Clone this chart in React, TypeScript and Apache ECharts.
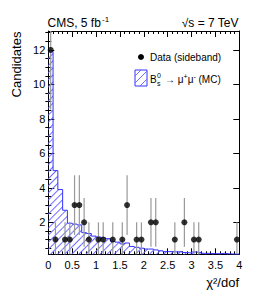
import React, { useEffect, useRef } from 'react';
import * as echarts from 'echarts';

// ---- data ----
const mcBinLow = [
  0.0, 0.1, 0.2, 0.3, 0.4, 0.5, 0.6, 0.7, 0.8, 0.9,
  1.0, 1.1, 1.2, 1.3, 1.4, 1.5, 1.6, 1.7, 1.8, 1.9,
  2.0, 2.1, 2.2, 2.3, 2.4, 2.5, 2.6, 2.7, 2.8, 2.9,
  3.0, 3.1, 3.2, 3.3, 3.4, 3.5, 3.6, 3.7, 3.8, 3.9,
];
const mcBinWidth = 0.1;
const mcValues = [
  11.9, 5.0, 3.9, 2.7, 1.95, 1.9, 1.85, 1.4, 1.35, 1.2,
  1.15, 1.1, 1.05, 0.9, 0.85, 0.75, 0.8, 0.6, 0.55, 0.5,
  0.45, 0.45, 0.4, 0.35, 0.3, 0.3, 0.28, 0.3, 0.25, 0.22,
  0.28, 0.25, 0.2, 0.2, 0.18, 0.18, 0.2, 0.17, 0.16, 0.16,
];

const dataX = [0.05, 0.15, 0.35, 0.45, 0.55, 0.65, 0.75, 0.85, 1.05, 1.15, 1.35, 1.55, 1.65, 1.85, 1.95, 2.15, 2.25, 2.65, 2.85, 3.05, 3.15, 3.95];
const dataY = [12, 1, 1, 1, 3, 3, 2, 1, 1, 1, 1, 1, 3, 1, 1, 2, 2, 1, 2, 1, 1, 1];
const dataLow = [8.54, 0, 0, 0, 1.27, 1.27, 0.59, 0, 0, 0, 0, 0, 1.27, 0, 0, 0.59, 0.59, 0, 0.59, 0, 0, 0];
const dataHigh = [15.46, 2, 2, 2, 4.73, 4.73, 3.41, 2, 2, 2, 2, 2, 4.73, 2, 2, 3.41, 3.41, 2, 3.41, 2, 2, 2];

const xMin = 0;
const xMax = 4;
const xInterval = 0.5;
const yMin = 0.145;
const yMax = 13.1;
const yMajorTicks = [2, 4, 6, 8, 10, 12];
const yMinorTicks = [0.5, 1, 1.5, 2.5, 3, 3.5, 4.5, 5, 5.5, 6.5, 7, 7.5, 8.5, 9, 9.5, 10.5, 11, 11.5, 12.5, 13];

const FONT = "'Liberation Sans', Arial, Helvetica, sans-serif";

export default function App() {
  const ref = useRef<HTMLDivElement>(null);
  useEffect(() => {
    if (!ref.current) return;
    const chart = echarts.init(ref.current, undefined, { renderer: 'svg' });

    const barData = mcBinLow.map((x, i) => [x + mcBinWidth / 2, mcValues[i]]);
    const outline = mcBinLow.map((x, i) => [x, mcValues[i]]);
    outline.push([mcBinLow[mcBinLow.length - 1] + mcBinWidth, mcValues[mcValues.length - 1]]);
    const errData = dataX.map((x, i) => [x, dataLow[i], dataHigh[i]]);
    const pts = dataX.map((x, i) => [x, dataY[i]]);

    const xBase = {
      type: 'value' as const,
      min: xMin,
      max: xMax,
      interval: xInterval,
      axisLine: { show: true, onZero: false, lineStyle: { color: '#000', width: 1 } },
      axisTick: { show: true, inside: true, length: 6, lineStyle: { color: '#000' } },
      minorTick: { show: true, splitNumber: 5, length: 3, lineStyle: { color: '#000' } },
      splitLine: { show: false },
      minorSplitLine: { show: false },
    };
    const yBase = {
      type: 'value' as const,
      min: yMin,
      max: yMax,
      splitLine: { show: false },
    };

    chart.setOption({
      animation: false,
      grid: { left: 48.3, right: 26.7, top: 31, bottom: 45.7, containLabel: false },
      xAxis: [
        {
          ...xBase,
          position: 'bottom',
          axisLabel: { color: '#000', fontSize: 11, fontFamily: FONT, margin: 5, formatter: (v: number) => String(v) },
        },
        { ...xBase, position: 'top', axisLabel: { show: false } },
      ],
      yAxis: [
        {
          ...yBase,
          position: 'left',
          axisLine: { show: true, onZero: false, lineStyle: { color: '#000', width: 1 } },
          axisTick: { show: true, inside: true, length: 6, lineStyle: { color: '#000' }, customValues: yMajorTicks },
          axisLabel: { color: '#000', fontSize: 11, fontFamily: FONT, margin: 3, customValues: yMajorTicks },
        },
        {
          ...yBase,
          position: 'left',
          axisLine: { show: false },
          axisTick: { show: true, inside: true, length: 3, lineStyle: { color: '#000' }, customValues: yMinorTicks },
          axisLabel: { show: false },
        },
        {
          ...yBase,
          position: 'right',
          axisLine: { show: true, onZero: false, lineStyle: { color: '#000', width: 1 } },
          axisTick: { show: true, inside: true, length: 6, lineStyle: { color: '#000' }, customValues: yMajorTicks },
          axisLabel: { show: false },
        },
        {
          ...yBase,
          position: 'right',
          axisLine: { show: false },
          axisTick: { show: true, inside: true, length: 3, lineStyle: { color: '#000' }, customValues: yMinorTicks },
          axisLabel: { show: false },
        },
      ],
      series: [
        {
          type: 'bar',
          xAxisIndex: 0,
          yAxisIndex: 0,
          data: barData,
          barWidth: '100%',
          clip: true,
          z: 1,
          itemStyle: {
            color: 'rgba(255,255,255,0)',
            decal: {
              symbol: 'rect',
              symbolSize: 1,
              color: '#6b6bff',
              dashArrayX: [1, 0],
              dashArrayY: [1, 4],
              rotation: -Math.PI / 4,
            },
          },
        },
        {
          type: 'line',
          xAxisIndex: 0,
          yAxisIndex: 0,
          data: outline,
          step: 'end',
          symbol: 'none',
          clip: true,
          z: 2,
          lineStyle: { color: '#3333ff', width: 1 },
        },
        {
          type: 'custom',
          xAxisIndex: 0,
          yAxisIndex: 0,
          data: errData,
          encode: { x: 0, y: [1, 2] },
          z: 3,
          renderItem: (params: any, api: any) => {
            const x = api.value(0);
            const p1 = api.coord([x, api.value(1)]);
            const p2 = api.coord([x, api.value(2)]);
            const cs = params.coordSys;
            const clamp = (v: number) => Math.max(cs.y, Math.min(cs.y + cs.height, v));
            return {
              type: 'line',
              shape: { x1: p1[0], y1: clamp(p1[1]), x2: p2[0], y2: clamp(p2[1]) },
              style: { stroke: '#999', lineWidth: 1.2 },
            };
          },
        },
        {
          type: 'scatter',
          xAxisIndex: 0,
          yAxisIndex: 0,
          data: pts,
          symbol: 'circle',
          symbolSize: 6,
          z: 4,
          itemStyle: { color: '#000' },
        },
      ],
      graphic: [
        { type: 'text', x: 47.5, y: 23, style: { text: 'CMS, 5 fb', fontSize: 12, fontFamily: FONT, fill: '#000', align: 'left', verticalAlign: 'middle' } },
        { type: 'text', x: 102, y: 19, style: { text: '-1', fontSize: 8, fontFamily: FONT, fill: '#000', align: 'left', verticalAlign: 'middle' } },
        { type: 'text', x: 238.5, y: 23, style: { text: '√s = 7 TeV', fontSize: 12, fontFamily: FONT, fill: '#000', align: 'right', verticalAlign: 'middle' } },
        { type: 'text', x: 16.5, y: 64.5, rotation: Math.PI / 2, style: { text: 'Candidates', fontSize: 13, fontFamily: FONT, fill: '#000', align: 'center', verticalAlign: 'middle' } },
        { type: 'text', x: 239, y: 282, style: { text: 'χ²/dof', fontSize: 13, fontFamily: FONT, fill: '#000', align: 'right', verticalAlign: 'middle' } },
        // legend
        { type: 'circle', shape: { cx: 141, cy: 57, r: 3 }, style: { fill: '#000' } },
        { type: 'text', x: 150, y: 57, style: { text: 'Data (sideband)', fontSize: 10, fontFamily: FONT, fill: '#000', align: 'left', verticalAlign: 'middle' } },
        { type: 'rect', shape: { x: 135, y: 70, width: 12, height: 16 }, style: { fill: 'none', stroke: '#3333ff', lineWidth: 1 } },
        { type: 'line', shape: { x1: 135, y1: 76, x2: 141, y2: 70 }, style: { stroke: '#6b6bff', lineWidth: 1 } },
        { type: 'line', shape: { x1: 135, y1: 83, x2: 147, y2: 71 }, style: { stroke: '#6b6bff', lineWidth: 1 } },
        { type: 'line', shape: { x1: 140, y1: 86, x2: 147, y2: 79 }, style: { stroke: '#6b6bff', lineWidth: 1 } },
        { type: 'text', x: 150, y: 79, style: { text: 'B', fontSize: 10, fontFamily: FONT, fill: '#000', align: 'left', verticalAlign: 'middle' } },
        { type: 'text', x: 157, y: 75, style: { text: '0', fontSize: 7, fontFamily: FONT, fill: '#000', align: 'left', verticalAlign: 'middle' } },
        { type: 'text', x: 157, y: 83, style: { text: 's', fontSize: 7, fontFamily: FONT, fill: '#000', align: 'left', verticalAlign: 'middle' } },
        {
          type: 'text', x: 165, y: 79,
          style: {
            text: '{n|→ μ}{s|+}{n|μ}{s|-}{n| (MC)}',
            fontFamily: FONT, fill: '#000', align: 'left', verticalAlign: 'middle',
            rich: {
              n: { fontSize: 10, fontFamily: FONT, fill: '#000', lineHeight: 12 },
              s: { fontSize: 7, fontFamily: FONT, fill: '#000', verticalAlign: 'top', lineHeight: 7 },
            },
          },
        },
      ],
    });
    return () => chart.dispose();
  }, []);
  return <div ref={ref} style={{ position: 'absolute', left: 0, top: 0, width: 266, height: 300 }} />;
}
